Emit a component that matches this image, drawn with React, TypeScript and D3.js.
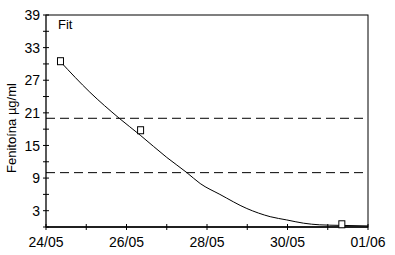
import React from 'react';
import * as d3 from 'd3';

// days since 24/05 and concentration (µg/ml)
const fitDays = [0.36, 1.09, 1.82, 2.34, 3.0, 3.5, 3.83, 4.32, 4.99, 5.57, 5.98, 6.4, 6.8, 7.3, 8.0];
const fitValues = [30.4, 24.8, 20.0, 16.9, 12.8, 10.0, 8.0, 6.0, 3.4, 1.9, 1.3, 0.7, 0.4, 0.3, 0.2];

const obsDays = [0.36, 2.35, 7.35];
const obsValues = [30.5, 17.8, 0.5];

const limits = [20, 10];

const xTickLabels = ['24/05', '26/05', '28/05', '30/05', '01/06'];
const yTickLabels = [3, 9, 15, 21, 27, 33, 39];

const W = 395;
const H = 255;
const margin = { left: 46, top: 15, right: 27, bottom: 28 };

export default function App() {
    const x = d3.scaleLinear().domain([0, 8]).range([margin.left, W - margin.right]);
    const y = d3.scaleLinear().domain([0, 39]).range([H - margin.bottom, margin.top]);

    const line = d3.line<number>()
        .x((d, i) => x(fitDays[i]))
        .y(d => y(d))
        .curve(d3.curveMonotoneX);

    const font = 'Arial, "Liberation Sans", sans-serif';
    const dayTicks = d3.range(0, 9);
    const minorY = d3.range(0, 40, 3);

    return (
        <div style={{ position: 'absolute', left: 0, top: 0 }}>
            <svg width={W} height={H} style={{ display: 'block', background: '#fff' }}>
                {/* frame */}
                <rect x={x(0)} y={y(39)} width={x(8) - x(0)} height={y(0) - y(39)}
                    fill="none" stroke="#000" strokeWidth={1} />
                <line x1={x(0)} x2={x(8)} y1={y(0)} y2={y(0)} stroke="#000" strokeWidth={1.5} />
                <line x1={x(0)} x2={x(0)} y1={y(0)} y2={y(39)} stroke="#444" strokeWidth={1.3} />

                {/* y ticks */}
                {minorY.map(v => (
                    <line key={'yt' + v} x1={x(0) - 3} x2={x(0) + 3} y1={y(v)} y2={y(v)} stroke="#000" />
                ))}
                {yTickLabels.map(v => (
                    <text key={'yl' + v} x={x(0) - 6} y={y(v)} dy="0.36em" textAnchor="end"
                        fontFamily={font} fontSize={14} fill="#000">{v}</text>
                ))}

                {/* x ticks */}
                {dayTicks.map(d => (
                    <line key={'xt' + d} x1={x(d)} x2={x(d)} y1={y(0) - 3} y2={y(0) + 3} stroke="#000" />
                ))}
                {xTickLabels.map((t, i) => (
                    <text key={t} x={x(i * 2)} y={y(0) + 20} textAnchor="middle"
                        fontFamily={font} fontSize={14} fill="#000">{t}</text>
                ))}

                {/* limit lines */}
                {limits.map(v => (
                    <line key={'lim' + v} x1={x(0)} x2={x(8)} y1={y(v)} y2={y(v)}
                        stroke="#000" strokeDasharray="9,5" />
                ))}

                {/* fitted curve */}
                <path d={line(fitValues) || ''} fill="none" stroke="#000" strokeWidth={1} />

                {/* observations */}
                {obsDays.map((d, i) => (
                    <rect key={'o' + i} x={x(d) - 3} y={y(obsValues[i]) - 3.5} width={6} height={7}
                        fill="#fff" stroke="#000" strokeWidth={1} />
                ))}

                <text x={58} y={29} fontFamily={font} fontSize={13} fill="#000">Fit</text>

                <text transform={`translate(16,128) rotate(-90)`} textAnchor="middle"
                    fontFamily={font} fontSize={13} fill="#000">Fenitoína µg/ml</text>
            </svg>
        </div>
    );
}
